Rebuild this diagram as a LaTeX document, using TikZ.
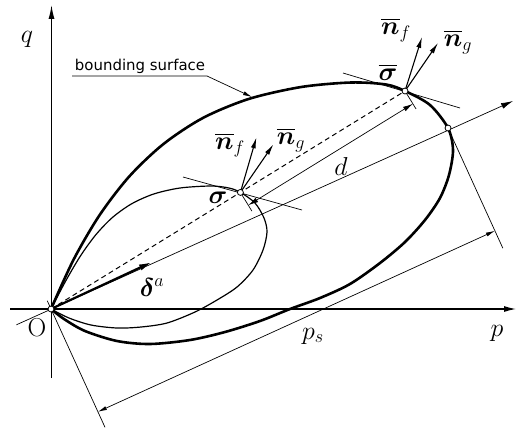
\RequirePackage{fix-cm}
\documentclass[tikz,border=0pt]{standalone}
\usepackage{fontspec}
\newfontfamily\labelfont{DejaVu Sans}
\usepackage{amsmath}
\usepackage{bm}
\usetikzlibrary{arrows.meta}
\def\bsurfpath{plot[smooth, tension=0.5] coordinates {(0,0) (22.7,-49.6) (48.6,-93.9) (78.3,-132.6) (112.6,-165.1) (152.2,-191.2) (197.9,-210.1) (250.2,-222) (300,-226.5) (335,-224.5) (354,-218) (379,-204) (397,-181) (402,-159) (398,-134) (389,-111) (374,-89) (354,-67) (329,-46) (299,-25) (269,-11) (239,0) (209,12) (174,23) (139,31) (99,35) (66,32) (34,22) (13,10) (0,0)}}
\def\innerpath{plot[smooth, tension=0.5] coordinates {(0,0) (14.8,-28.2) (29.4,-53) (44.7,-74.1) (61.4,-91.5) (80.6,-105.2) (102.7,-115) (129,-121) (160,-123) (178,-121) (189.4,-116.6) (204,-106) (213,-91) (216,-77) (212,-59) (202,-39) (186,-22) (166,-9) (144,3) (116,14) (90,18) (66,19) (40,16) (18,9) (0,0)}}
\begin{document}
\begin{tikzpicture}[x=1bp,y=-1bp,
  bsurfln/.style={line width=2.6pt, line join=round},
  innerln/.style={line width=1.2pt},
  axisln/.style={line width=1.2pt},
  thinln/.style={line width=0.7pt},
  dot/.style={circle, draw, fill=white, inner sep=0pt, minimum size=6pt, line width=0.8pt},
  lbl/.style={font=\fontsize{26}{30}\selectfont, inner sep=0pt},
  bigtip/.style={-{Latex[length=14pt,width=6pt]}},
  midtip/.style={-{Latex[length=12pt,width=6pt]}},
  smalltip/.style={{Latex[length=10pt,width=5pt]}-{Latex[length=10pt,width=5pt]}},
  dimtip/.style={{Latex[length=9pt,width=4pt]}-{Latex[length=9pt,width=4pt]}}]
\useasboundingbox (0,0) rectangle (516,429);
% key points
\coordinate (O) at (51,309);
\coordinate (P) at (448,128);
\coordinate (Sb) at (405,91);
\coordinate (S) at (240.4,192.4);
% axes
\coordinate (qb) at (51.5,378);
\coordinate (qt) at (51.5,5);
\coordinate (pl) at (10,309);
\coordinate (pr) at (516,309);
\draw[axisln, bigtip] (qb) -- (qt);
\draw[axisln, midtip] (pl) -- (pr);
% surfaces
\draw[bsurfln, shift={(51,309)}] \bsurfpath;
\draw[innerln, shift={(51,309)}] \innerpath;
% main axis
\coordinate (ma0) at (16.4,324.8);
\coordinate (ma1) at (513,101);
\draw[thinln, -{Latex[length=12pt,width=6pt]}] (ma0) -- (ma1);
% delta^a
\coordinate (da) at (152,262);
\draw[line width=2.2pt, -{Latex[length=13pt,width=6.5pt]}] (O) -- (da);
% dashed
\draw[line width=1pt, dash pattern=on 5pt off 3.5pt] (O) -- (Sb);
% tangents
\coordinate (tA1) at (343,73); \coordinate (tA2) at (460,108);
\coordinate (tB1) at (183,177); \coordinate (tB2) at (302,210);
\draw[thinln] (tA1) -- (tA2);
\draw[thinln] (tB1) -- (tB2);
% normals
\coordinate (nfA) at (422,37); \coordinate (ngA) at (438,43);
\coordinate (nfB) at (256.4,137.4); \coordinate (ngB) at (273.4,144.4);
\draw[line width=1.1pt, -{Latex[length=11pt,width=5pt]}] (Sb) -- (nfA);
\draw[line width=1.1pt, -{Latex[length=11pt,width=5pt]}] (Sb) -- (ngA);
\draw[line width=1.1pt, -{Latex[length=11pt,width=5pt]}] (S) -- (nfB);
\draw[line width=1.1pt, -{Latex[length=11pt,width=5pt]}] (S) -- (ngB);
% d dimension
\coordinate (tkA) at (416,108.9); \coordinate (tkB) at (251.9,211.1);
\coordinate (dA) at (412.9,103.8); \coordinate (dB) at (248.3,205.2);
\draw[thinln] (Sb) -- (tkA);
\draw[thinln] (S) -- (tkB);
\draw[thinln, smalltip] (dB) -- (dA);
% lower dimension
\coordinate (e0a) at (47.3,300.8); \coordinate (e0b) at (105,427.3);
\coordinate (e1a) at (449.2,130.7); \coordinate (e1b) at (502.8,248.1);
\coordinate (l0) at (97.9,411.8); \coordinate (l1) at (494.9,230.8);
\draw[thinln] (e0a) -- (e0b);
\draw[thinln] (e1a) -- (e1b);
\draw[thinln, dimtip] (l0) -- (l1);
% leader
\coordinate (ld0) at (72,76); \coordinate (ld1) at (207,76); \coordinate (ld2) at (252,97);
\draw[thinln, -{Latex[length=9pt,width=4pt]}] (ld0) -- (ld1) -- (ld2);
\node[inner sep=0pt, font=\labelfont\fontsize{15}{18}\selectfont] (bs) at (140,66) {bounding surface};
% dots
\node[dot] (dO) at (O) {};
\node[dot] (dS) at (S) {};
\node[dot] (dSb) at (Sb) {};
\node[dot] (dP) at (P) {};
% labels
\node[lbl] (lq) at (27,39) {$q$};
\node[lbl] (lp) at (497,333) {$p$};
\node[lbl] (lps) at (313,336) {$p_s$};
\node[lbl] (lO) at (37,328) {O};
\node[lbl] (ld) at (341,166) {$d$};
\node[lbl] (lda) at (152,287) {$\bm{\delta}^{a}$};
\node[lbl] (lS) at (218,198) {$\bm{\sigma}$};
\node[lbl] (lSb) at (388,72) {$\overline{\bm{\sigma}}$};
\node[lbl] (lnfA) at (396,30) {$\overline{\bm{n}}_{f}$};
\node[lbl] (lngA) at (458,42) {$\overline{\bm{n}}_{g}$};
\node[lbl] (lnfB) at (230,145) {$\overline{\bm{n}}_{f}$};
\node[lbl] (lngB) at (291,140) {$\overline{\bm{n}}_{g}$};
\end{tikzpicture}
\end{document}
